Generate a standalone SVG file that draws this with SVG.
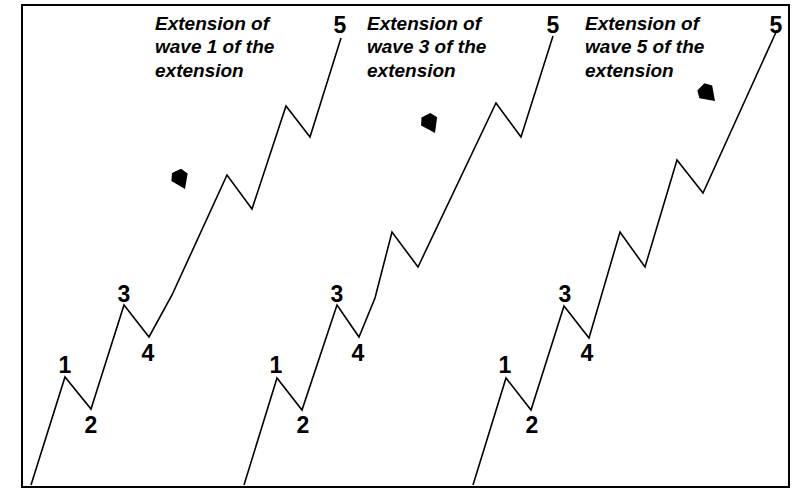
<svg xmlns="http://www.w3.org/2000/svg" xmlns:xlink="http://www.w3.org/1999/xlink" width="797" height="490" viewBox="0 0 797 490">
<style>
.wave{fill:none;stroke:#000;stroke-width:1.6;stroke-linejoin:miter}
.cap{font-family:"Liberation Sans",Arial,sans-serif;font-weight:bold;font-style:italic;font-size:19px;fill:#000}
.num{font-family:"Liberation Sans",Arial,sans-serif;font-weight:bold;font-size:23px;fill:#000;text-anchor:middle}
.frame{fill:none;stroke:#000;stroke-width:2}
</style>
<defs>
<path id="arrow" d="M0,0 L-13,-9 L-20,-5 L-20,5 L-13,9 Z" fill="#000"/>
</defs>
<rect class="frame" x="22" y="5" width="767" height="482"/>
<g id="connectors">
<polyline class="wave" points="31,485 65,377 91,409 124,305 149,337 172,295 227,175 252,209 286,106 310,137 341,38"/>
<polyline class="wave" points="244,485 277,378 302,410 337,305 359,337 375,298 392,232 418,267 496,103 521,137 553,36"/>
<polyline class="wave" points="473,485 506,378 531,410 564,306 589,338 620,232 645,267 677,160 703,193 777,30"/>
</g>
<g id="caption1"><text class="cap" x="155"><tspan x="155" y="30">Extension of</tspan><tspan x="155" y="53">wave 1 of the</tspan><tspan x="155" y="77">extension</tspan></text></g>
<g id="caption2"><text class="cap"><tspan x="367" y="30">Extension of</tspan><tspan x="367" y="53">wave 3 of the</tspan><tspan x="367" y="77">extension</tspan></text></g>
<g id="caption3"><text class="cap"><tspan x="585" y="30">Extension of</tspan><tspan x="585" y="53">wave 5 of the</tspan><tspan x="585" y="77">extension</tspan></text></g>
<g id="arrow1"><use xlink:href="#arrow" transform="translate(185,189) rotate(65)"/></g>
<g id="arrow2"><use xlink:href="#arrow" transform="translate(435,133) rotate(63)"/></g>
<g id="arrow3"><use xlink:href="#arrow" transform="translate(715,101) rotate(45)"/></g>
<g id="p1-1"><text class="num" x="65" y="373">1</text></g>
<g id="p1-2"><text class="num" x="91" y="433">2</text></g>
<g id="p1-3"><text class="num" x="124" y="302">3</text></g>
<g id="p1-4"><text class="num" x="148" y="361">4</text></g>
<g id="p1-5"><text class="num" x="340" y="33">5</text></g>
<g id="p2-1"><text class="num" x="276" y="373">1</text></g>
<g id="p2-2"><text class="num" x="303" y="433">2</text></g>
<g id="p2-3"><text class="num" x="337" y="302">3</text></g>
<g id="p2-4"><text class="num" x="358" y="361">4</text></g>
<g id="p2-5"><text class="num" x="553" y="33">5</text></g>
<g id="p3-1"><text class="num" x="505" y="373">1</text></g>
<g id="p3-2"><text class="num" x="532" y="433">2</text></g>
<g id="p3-3"><text class="num" x="565" y="302">3</text></g>
<g id="p3-4"><text class="num" x="587" y="361">4</text></g>
<g id="p3-5"><text class="num" x="776" y="33">5</text></g>
</svg>
